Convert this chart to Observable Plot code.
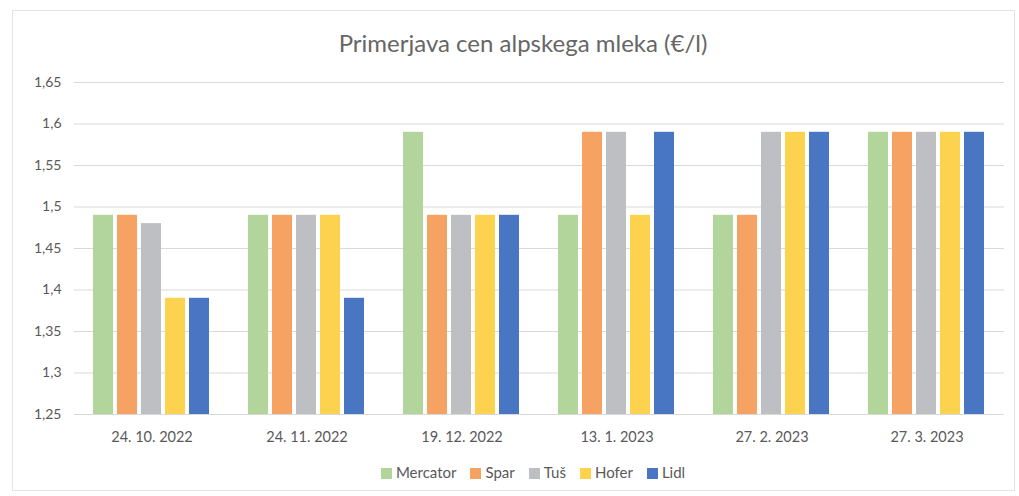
<!DOCTYPE html>
<html>
<head>
<meta charset="utf-8">
<script src="https://cdn.jsdelivr.net/npm/d3@7"></script>
<script src="https://cdn.jsdelivr.net/npm/@observablehq/plot@0.6"></script>
<style>
  html, body { margin: 0; padding: 0; background: #fff; }
  #wrap { position: relative; width: 1019px; height: 496px; font-family: Lato, "Open Sans", sans-serif; color: #595959; overflow: hidden; }
  #frame { position: absolute; left: 12px; top: 10px; width: 1003px; height: 481px; border: 1px solid #e3e3e3; box-sizing: border-box; }
  #title { position: absolute; left: 0; width: 1046px; top: 28px; text-align: center; font-size: 24px; color: #666666; }
  #chart { position: absolute; left: 0; top: 60px; }
  #legend { position: absolute; left: 0; width: 1066px; top: 463px; display: flex; justify-content: center; gap: 14px; font-size: 15px; color: #595959; }
  #legend span.sw { display: inline-block; width: 11px; height: 11px; margin-right: 4px; vertical-align: -1px; }
</style>
</head>
<body>
<div id="wrap">
  <div id="frame"></div>
  <div id="title">Primerjava cen alpskega mleka (€/l)</div>
  <div id="chart"></div>
  <div id="legend"></div>
</div>
<script>
const dates = ["24. 10. 2022", "24. 11. 2022", "19. 12. 2022", "13. 1. 2023", "27. 2. 2023", "27. 3. 2023"];
const stores = ["Mercator", "Spar", "Tuš", "Hofer", "Lidl"];
const colors = ["#B1D59A", "#F5A262", "#BDBFC3", "#FDD24E", "#4876C3"];
const mercator = [1.49, 1.49, 1.59, 1.49, 1.49, 1.59];
const spar     = [1.49, 1.49, 1.49, 1.59, 1.49, 1.59];
const tus      = [1.48, 1.49, 1.49, 1.59, 1.59, 1.59];
const hofer    = [1.39, 1.49, 1.49, 1.49, 1.59, 1.59];
const lidl     = [1.39, 1.39, 1.49, 1.59, 1.59, 1.59];
const yTicks = [1.25, 1.3, 1.35, 1.4, 1.45, 1.5, 1.55, 1.6, 1.65];
const yTickLabels = ["1,25", "1,3", "1,35", "1,4", "1,45", "1,5", "1,55", "1,6", "1,65"];

const series = [mercator, spar, tus, hofer, lidl];
const data = [];
dates.forEach((d, i) => stores.forEach((s, j) => data.push({date: d, store: s, price: series[j][i]})));

const chart = Plot.plot({
  width: 1019,
  height: 400,
  marginTop: 22,
  marginBottom: 46,
  marginLeft: 72,
  marginRight: 14,
  style: {fontFamily: "Lato, 'Open Sans', sans-serif", fontSize: "14px", color: "#595959", background: "transparent"},
  fx: {domain: dates, padding: 0, label: null, axis: null},
  x: {domain: stores, paddingInner: 0.16, paddingOuter: 0.75, axis: null},
  y: {domain: [1.25, 1.65], label: null},
  color: {domain: stores, range: colors},
  marks: [
    Plot.gridY(yTicks, {stroke: "#d9d9d9", strokeOpacity: 1, strokeWidth: 1}),
    Plot.axisY(yTicks, {tickSize: 0, tickPadding: 13, tickFormat: (d) => yTickLabels[yTicks.indexOf(d)], fontSize: 14, fill: "#595959", label: null}),
    Plot.axisFx({anchor: "bottom", tickSize: 0, tickPadding: 17, fontSize: 14.5, fill: "#595959", label: null}),
    Plot.barY(data, {fx: "date", x: "store", y1: 1.25, y2: "price", fill: "store"})
  ]
});
document.getElementById("chart").appendChild(chart);

const legend = document.getElementById("legend");
stores.forEach((s, i) => {
  const item = document.createElement("div");
  item.innerHTML = `<span class="sw" style="background:${colors[i]}"></span>${s}`;
  legend.appendChild(item);
});
</script>
</body>
</html>
